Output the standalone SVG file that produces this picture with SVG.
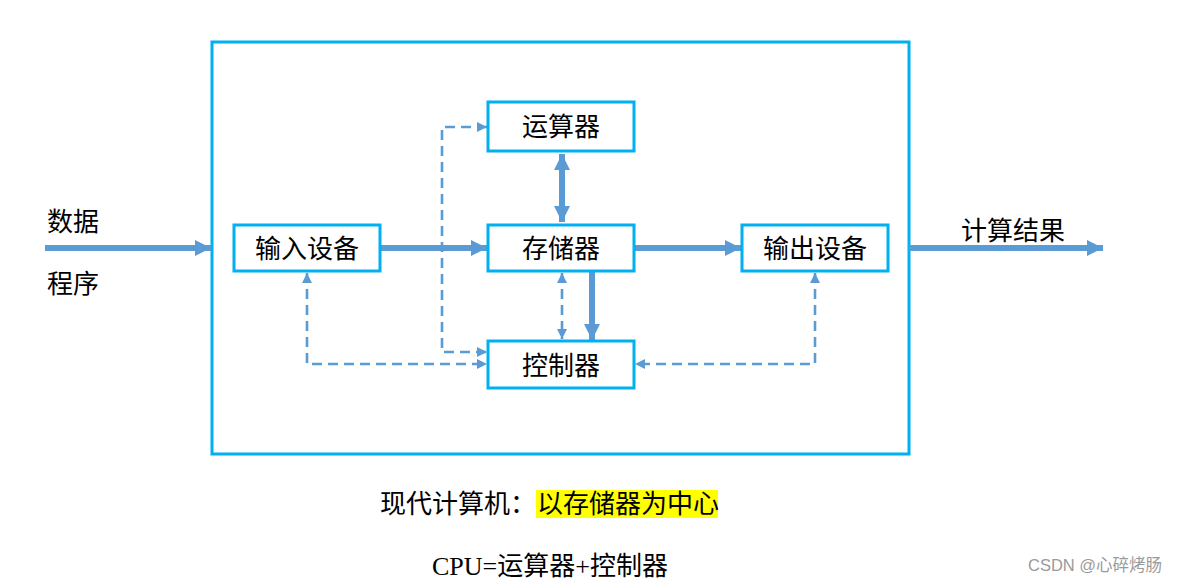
<svg xmlns="http://www.w3.org/2000/svg" width="1178" height="583" viewBox="0 0 1178 583">
<style>
.box{fill:#fff;stroke:#00B0F0;stroke-width:3}
.lbl{font-family:"Noto Sans CJK SC","Noto Sans",sans-serif;font-size:26px;fill:#000;text-anchor:middle}
.txt{font-family:"Noto Sans CJK SC","Noto Sans",sans-serif;font-size:26px;fill:#000}
.thick{stroke:#5B9BD5;stroke-width:6;fill:none}
.dash{stroke:#5B9BD5;stroke-width:2.6;fill:none;stroke-dasharray:10 6}
</style>
<defs>
<marker id="big" markerUnits="userSpaceOnUse" markerWidth="16" markerHeight="16" refX="16" refY="8" orient="auto-start-reverse" viewBox="0 0 16 16">
<path d="M0,0L16,8L0,16Z" fill="#5B9BD5"/>
</marker>
<marker id="sm" markerUnits="userSpaceOnUse" markerWidth="10" markerHeight="10" refX="10" refY="5" orient="auto-start-reverse" viewBox="0 0 10 10">
<path d="M0,0L10,5L0,10Z" fill="#5B9BD5"/>
</marker>
</defs>
<rect width="1178" height="583" fill="#fff"/>
<g id="outer"><rect x="212" y="42" width="697" height="412" fill="none" stroke="#00B0F0" stroke-width="3"/></g>
<g id="connectors">
<line class="thick" x1="45" y1="248" x2="211" y2="248" marker-end="url(#big)"/>
<line class="thick" x1="380" y1="248" x2="487" y2="248" marker-end="url(#big)"/>
<line class="thick" x1="634" y1="248" x2="741" y2="248" marker-end="url(#big)"/>
<line class="thick" x1="909" y1="248" x2="1103" y2="248" marker-end="url(#big)"/>
<line class="thick" x1="562" y1="154" x2="562" y2="222" marker-start="url(#big)" marker-end="url(#big)"/>
<line class="thick" x1="592" y1="271" x2="592" y2="340" marker-end="url(#big)"/>
<line class="dash" x1="562" y1="273" x2="562" y2="339" marker-start="url(#sm)" marker-end="url(#sm)"/>
<path class="dash" d="M487,127H442V352H487" marker-start="url(#sm)" marker-end="url(#sm)"/>
<path class="dash" d="M307,273V364H487" marker-start="url(#sm)" marker-end="url(#sm)"/>
<path class="dash" d="M815,273V364H635" marker-start="url(#sm)" marker-end="url(#sm)"/>
</g>
<g id="alu"><rect class="box" x="488" y="102" width="146" height="49"/><text class="lbl" x="561" y="136">运算器</text></g>
<g id="memory"><rect class="box" x="488" y="225" width="146" height="46"/><text class="lbl" x="561" y="258">存储器</text></g>
<g id="control"><rect class="box" x="488" y="341" width="146" height="47"/><text class="lbl" x="561" y="375">控制器</text></g>
<g id="input"><rect class="box" x="234" y="225" width="146" height="46"/><text class="lbl" x="307" y="258">输入设备</text></g>
<g id="output"><rect class="box" x="742" y="225" width="146" height="46"/><text class="lbl" x="815" y="258">输出设备</text></g>
<g id="labels">
<text class="txt" x="47" y="231">数据</text>
<text class="txt" x="47" y="293">程序</text>
<text class="txt" x="961" y="240">计算结果</text>
<rect x="536" y="490" width="182" height="28" fill="#FFFF00"/>
<text class="txt" x="380" y="513">现代计算机：</text>
<text class="txt" x="537" y="513">以存储器为中心</text>
<text x="432" y="575" font-family="'Liberation Serif','Noto Sans CJK SC',serif" font-size="26" fill="#000">CPU=运算器+控制器</text>
<text x="1028" y="571" font-family="'Liberation Sans','Noto Sans CJK SC',sans-serif" font-size="16.5" fill="#9a9a9a">CSDN @心碎烤肠</text>
</g>
</svg>
